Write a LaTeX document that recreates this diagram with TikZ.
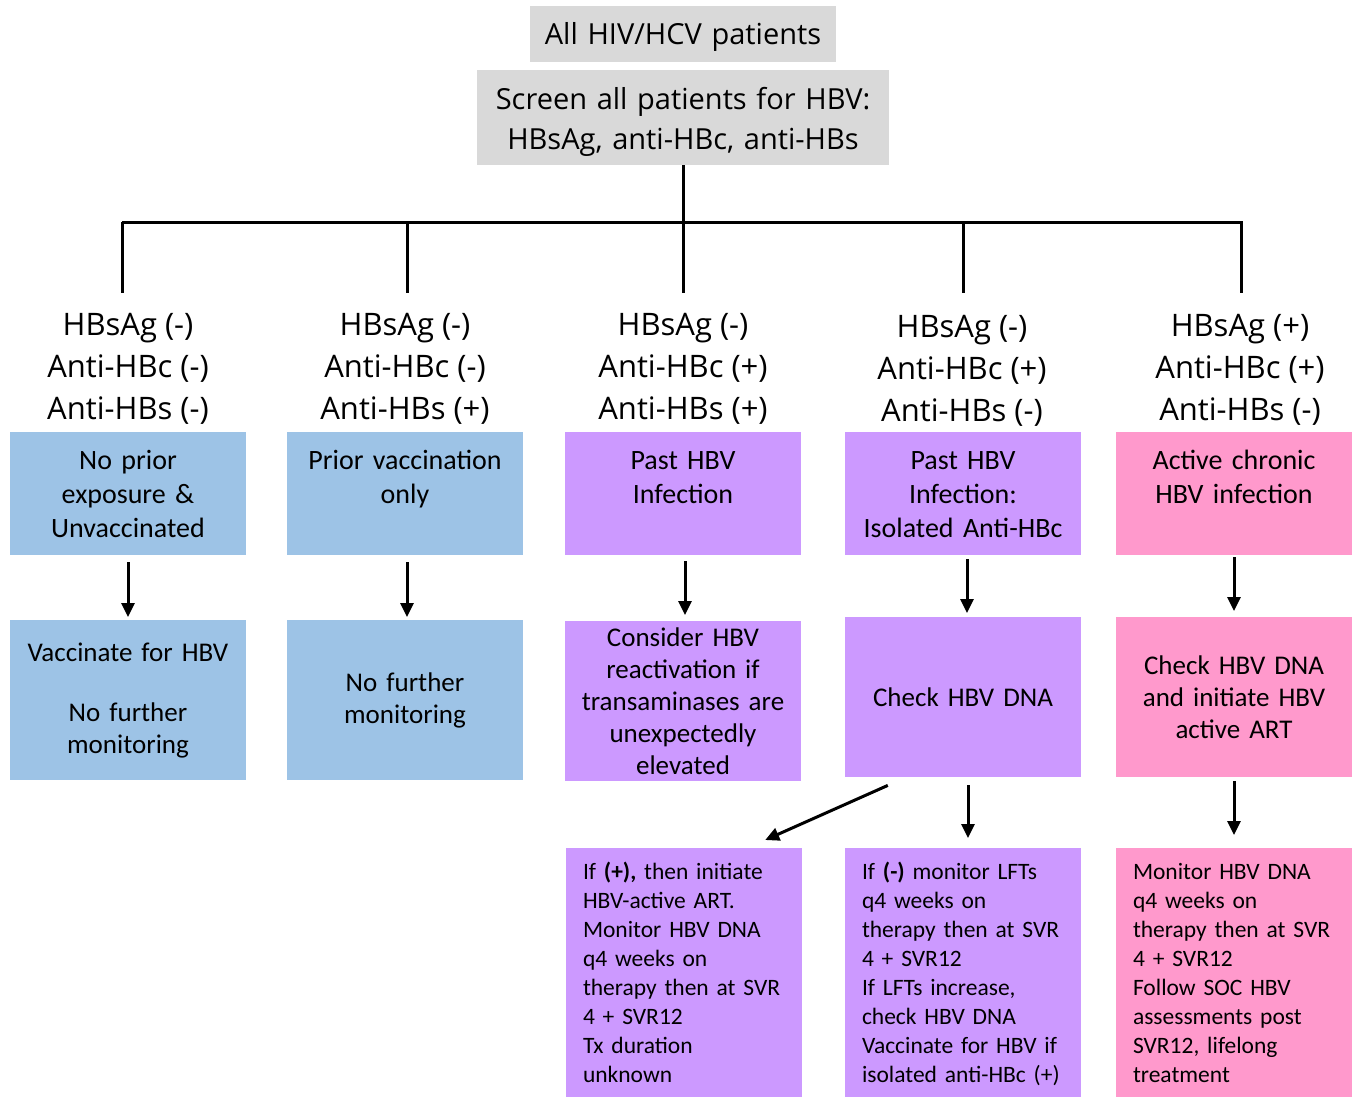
\documentclass[tikz,border=0pt]{standalone}
\usepackage{fontspec}
\setmainfont{Carlito}
\newfontfamily\headfont{Open Sans}
\usetikzlibrary{arrows.meta}

\definecolor{boxgray}{HTML}{D9D9D9}
\definecolor{boxblue}{HTML}{9DC3E6}
\definecolor{boxlilac}{HTML}{CC99FF}
\definecolor{boxpink}{HTML}{FF99CC}

\tikzset{
	graybox/.style={anchor=north, fill=boxgray, inner sep=0pt, align=center, font=\headfont\fontsize{29}{40}\selectfont},
	result/.style={align=center, inner sep=0pt, font=\headfont\fontsize{31}{42}\selectfont},
	dxbox/.style={anchor=north, inner xsep=0pt, inner ysep=0pt, text width=236pt, align=center, text height=37pt, text depth=86pt, font=\fontsize{28}{34}\selectfont},
	actbox/.style={anchor=north, inner sep=0pt, text width=236pt, minimum height=160pt, align=center, font=\fontsize{27}{32}\selectfont},
	fubox/.style={anchor=north, inner xsep=17pt, inner ysep=0pt, text width=202pt, align=left, text height=31pt, text depth=230pt, font=\fontsize{23.5}{29}\selectfont},
	tree/.style={line width=3pt},
	flow/.style={-{Triangle[length=14pt,width=13pt]}, line width=3pt},
}

\begin{document}
\begin{tikzpicture}[x=1pt, y=-1pt]
	\useasboundingbox (0,0) rectangle (1355,1096);
	% screening
	\node (all) at (683,6) [graybox, text width=306pt, text height=38pt, text depth=18pt] {All HIV/HCV patients};
	\node (screen) at (683,70) [graybox, text width=412pt, text height=39pt, text depth=56pt] {Screen all patients for HBV:\\HBsAg, anti-HBc, anti-HBs};
	% serology results
	\node (lab1) at (128,369) [result] {HBsAg (-)\\Anti-HBc (-)\\Anti-HBs (-)};
	\node (lab2) at (405,369) [result] {HBsAg (-)\\Anti-HBc (-)\\Anti-HBs (+)};
	\node (lab3) at (683,369) [result] {HBsAg (-)\\Anti-HBc (+)\\Anti-HBs (+)};
	\node (lab4) at (962,371) [result] {HBsAg (-)\\Anti-HBc (+)\\Anti-HBs (-)};
	\node (lab5) at (1240,370) [result] {HBsAg (+)\\Anti-HBc (+)\\Anti-HBs (-)};
	% interpretation
	\node (dx1) at (128,432) [dxbox, fill=boxblue] {No prior\\exposure \&\\Unvaccinated};
	\node (dx2) at (405,432) [dxbox, fill=boxblue] {Prior vaccination\\only};
	\node (dx3) at (683,432) [dxbox, fill=boxlilac] {Past HBV\\Infection};
	\node (dx4) at (963,432) [dxbox, fill=boxlilac] {Past HBV\\Infection:\\Isolated Anti-HBc};
	\node (dx5) at (1234,432) [dxbox, fill=boxpink] {Active chronic\\HBV infection};
	% management
	\node (act1) at (128,620) [actbox, fill=boxblue] {Vaccinate for HBV\\[28pt]No further\\monitoring};
	\node (act2) at (405,620) [actbox, fill=boxblue] {No further\\monitoring};
	\node (act3) at (683,621) [actbox, fill=boxlilac] {Consider HBV\\reactivation if\\transaminases are\\unexpectedly\\elevated};
	\node (act4) at (963,617) [actbox, fill=boxlilac] {Check HBV DNA};
	\node (act5) at (1234,617) [actbox, fill=boxpink] {Check HBV DNA\\and initiate HBV\\active ART};
	% follow-up
	\node (fu3) at (684,848) [fubox, fill=boxlilac] {If \textbf{(+),} then initiate\\HBV-active ART.\\Monitor HBV DNA\\q4 weeks on\\therapy then at SVR\\4 + SVR12\\Tx duration\\unknown};
	\node (fu4) at (963,848) [fubox, fill=boxlilac] {If \textbf{(-)} monitor LFTs\\q4 weeks on\\therapy then at SVR\\4 + SVR12\\If LFTs increase,\\check HBV DNA\\Vaccinate for HBV if\\isolated anti-HBc (+)};
	\node (fu5) at (1234,848) [fubox, fill=boxpink] {Monitor HBV DNA\\q4 weeks on\\therapy then at SVR\\4 + SVR12\\Follow SOC HBV\\assessments post\\SVR12, lifelong\\treatment};
	% branching
	\coordinate (hub) at (683,222);
	\coordinate (t1) at (122,222);
	\coordinate (t2) at (407,222);
	\coordinate (t4) at (963,222);
	\coordinate (t5) at (1241,222);
	\coordinate (tend) at (1243,222);
	\coordinate (d1) at (122,293);
	\coordinate (d2) at (407,293);
	\coordinate (d3) at (683,293);
	\coordinate (d4) at (963,293);
	\coordinate (d5) at (1241,293);
	\draw[tree] (screen) -- (hub);
	\draw[tree] (t1) -- (tend);
	\draw[tree] (t1) -- (d1);
	\draw[tree] (t2) -- (d2);
	\draw[tree] (hub) -- (d3);
	\draw[tree] (t4) -- (d4);
	\draw[tree] (t5) -- (d5);
	% arrows
	\draw[flow, shorten <=7pt, shorten >=3pt] (dx1) -- (act1);
	\draw[flow, shorten <=7pt, shorten >=3pt] ([xshift=2pt]dx2.south) -- ([xshift=2pt]act2.north);
	\draw[flow, shorten <=6pt, shorten >=6pt] ([xshift=2pt]dx3.south) -- ([xshift=2pt]act3.north);
	\draw[flow, shorten <=4pt, shorten >=4pt] ([xshift=4pt]dx4.south) -- ([xshift=4pt]act4.north);
	\draw[flow, shorten <=2pt, shorten >=6pt] (dx5) -- (act5);
	\draw[flow] ([xshift=43pt,yshift=-8pt]act4.south west) -- ([xshift=-37pt,yshift=8pt]fu3.north east);
	\draw[flow, shorten <=8pt, shorten >=10pt] ([xshift=5pt]act4.south) -- ([xshift=5pt]fu4.north);
	\draw[flow, shorten <=4pt, shorten >=13pt] (act5) -- (fu5);
\end{tikzpicture}
\end{document}
